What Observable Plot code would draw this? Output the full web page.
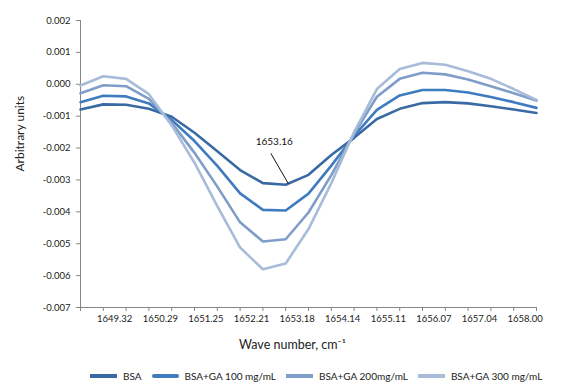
<!DOCTYPE html>
<html><head><meta charset="utf-8">
<script src="https://cdn.jsdelivr.net/npm/d3@7"></script>
<script src="https://cdn.jsdelivr.net/npm/@observablehq/plot@0.6"></script>
<style>
body{margin:0;background:#fff;font-family:Lato,"Liberation Sans",sans-serif;}
#legend{display:flex;align-items:center;height:31px;padding-left:90px;font-size:10px;color:#1a1a1a;}
.item{display:flex;align-items:center;margin-right:10px}
.sw{width:27px;height:4px;margin-right:6px}
</style></head><body>
<div id="chart"></div><div id="legend"></div>
<script>
// category index of each measured point
const pointIndex = [0,1,2,3,4,5,6,7,8,9,10,11,12,13,14,15,16,17,18,19,20];
// x tick labels and their positions (between ticks, every second interval)
const xTickLabels = ["1649.32","1650.29","1651.25","1652.21","1653.18","1654.14","1655.11","1656.07","1657.04","1658.00"];
const xLabelPos = [1.5,3.5,5.5,7.5,9.5,11.5,13.5,15.5,17.5,19.5];
const xTickPos = [0,1,2,3,4,5,6,7,8,9,10,11,12,13,14,15,16,17,18,19,20];
const yTicks = [-0.007,-0.006,-0.005,-0.004,-0.003,-0.002,-0.001,0,0.001,0.002];

const seriesNames = ["BSA","BSA+GA 100 mg/mL","BSA+GA 200mg/mL","BSA+GA 300 mg/mL"];
const seriesColors = ["#3a6aa3","#3f7bbf","#7f9dc8","#a8bcd9"];

const bsa   = [-0.00079,-0.00063,-0.00064,-0.00077,-0.00102,-0.00152,-0.00210,-0.00269,-0.00310,-0.00315,-0.00284,-0.00222,-0.00168,-0.00109,-0.00077,-0.00059,-0.00056,-0.00060,-0.00069,-0.00079,-0.00090];
const ga100 = [-0.00056,-0.00036,-0.00038,-0.00060,-0.00112,-0.00178,-0.00256,-0.00342,-0.00394,-0.00396,-0.00343,-0.00255,-0.00162,-0.00080,-0.00035,-0.00018,-0.00018,-0.00026,-0.00040,-0.00056,-0.00074];
const ga200 = [-0.00028,-0.00003,-0.00006,-0.00046,-0.00121,-0.00215,-0.00321,-0.00433,-0.00493,-0.00486,-0.00402,-0.00285,-0.00155,-0.00039,0.00017,0.00036,0.00031,0.00015,-0.00006,-0.00028,-0.00051];
const ga300 = [-0.00004,0.00025,0.00017,-0.00031,-0.00129,-0.00246,-0.00382,-0.00512,-0.00580,-0.00562,-0.00454,-0.00310,-0.00150,-0.00015,0.00048,0.00067,0.00061,0.00041,0.00017,-0.00015,-0.00049];

const annotationText = "1653.16";
const annotationLink = [{x1: 8.35, y1: -0.00217, x2: 9.12, y2: -0.00312}];
const annotationLabel = [{x: 8.5, y: -0.00180, text: annotationText}];

const allSeries = [bsa, ga100, ga200, ga300];
const rows = [];
allSeries.forEach((vals, s) => vals.forEach((v, i) => rows.push({series: seriesNames[s], i: pointIndex[i], v})));

const axisColor = "#868686";
const textColor = "#222";

const chart = Plot.plot({
  width: 579,
  height: 360,
  marginLeft: 80,
  marginRight: 43,
  marginTop: 20,
  marginBottom: 53,
  style: {fontFamily: "Lato, 'Liberation Sans', sans-serif", fontSize: "9.5px", background: "#fff"},
  x: {domain: [0, 20], axis: null},
  y: {domain: [-0.007, 0.002], axis: null},
  color: {domain: seriesNames, range: seriesColors},
  marks: [
    Plot.ruleX([0], {y1: -0.007, y2: 0.002, stroke: axisColor}),
    Plot.ruleY([-0.007], {stroke: axisColor}),
    Plot.axisY({ticks: yTicks, tickSize: 4, tickPadding: 6, tickFormat: d => d.toFixed(3), stroke: axisColor, fill: textColor, label: null}),
    Plot.axisX({ticks: xTickPos, tickSize: 4, tickFormat: () => "", stroke: axisColor, label: null}),
    Plot.axisX({ticks: xLabelPos, tickSize: 0, tickPadding: 8, tickFormat: d => xTickLabels[xLabelPos.indexOf(d)], fill: textColor, label: null}),
    Plot.line(rows, {x: "i", y: "v", z: "series", stroke: "series", strokeWidth: 2.6, strokeLinejoin: "round"}),
    Plot.link(annotationLink, {x1: "x1", y1: "y1", x2: "x2", y2: "y2", stroke: "#111", strokeWidth: 1}),
    Plot.text(annotationLabel, {x: "x", y: "y", text: "text", fontSize: 10, fill: "#111"}),
    Plot.text(["Arbitrary units"], {frameAnchor: "left", rotate: -90, dx: -60.5, dy: 7.5, fontSize: 12, fill: textColor}),
    Plot.text(["Wave number, cm\u207B\u00B9"], {frameAnchor: "bottom", dx: -16, dy: 41, fontSize: 12.5, fill: textColor})
  ]
});
document.getElementById("chart").appendChild(chart);

const legend = document.getElementById("legend");
seriesNames.forEach((name, k) => {
  const item = document.createElement("div");
  item.className = "item";
  const sw = document.createElement("div");
  sw.className = "sw";
  sw.style.background = seriesColors[k];
  if (k === 1) sw.style.borderRadius = "2px";
  const t = document.createElement("span");
  t.textContent = name;
  item.appendChild(sw); item.appendChild(t);
  legend.appendChild(item);
});
</script>
</body></html>
